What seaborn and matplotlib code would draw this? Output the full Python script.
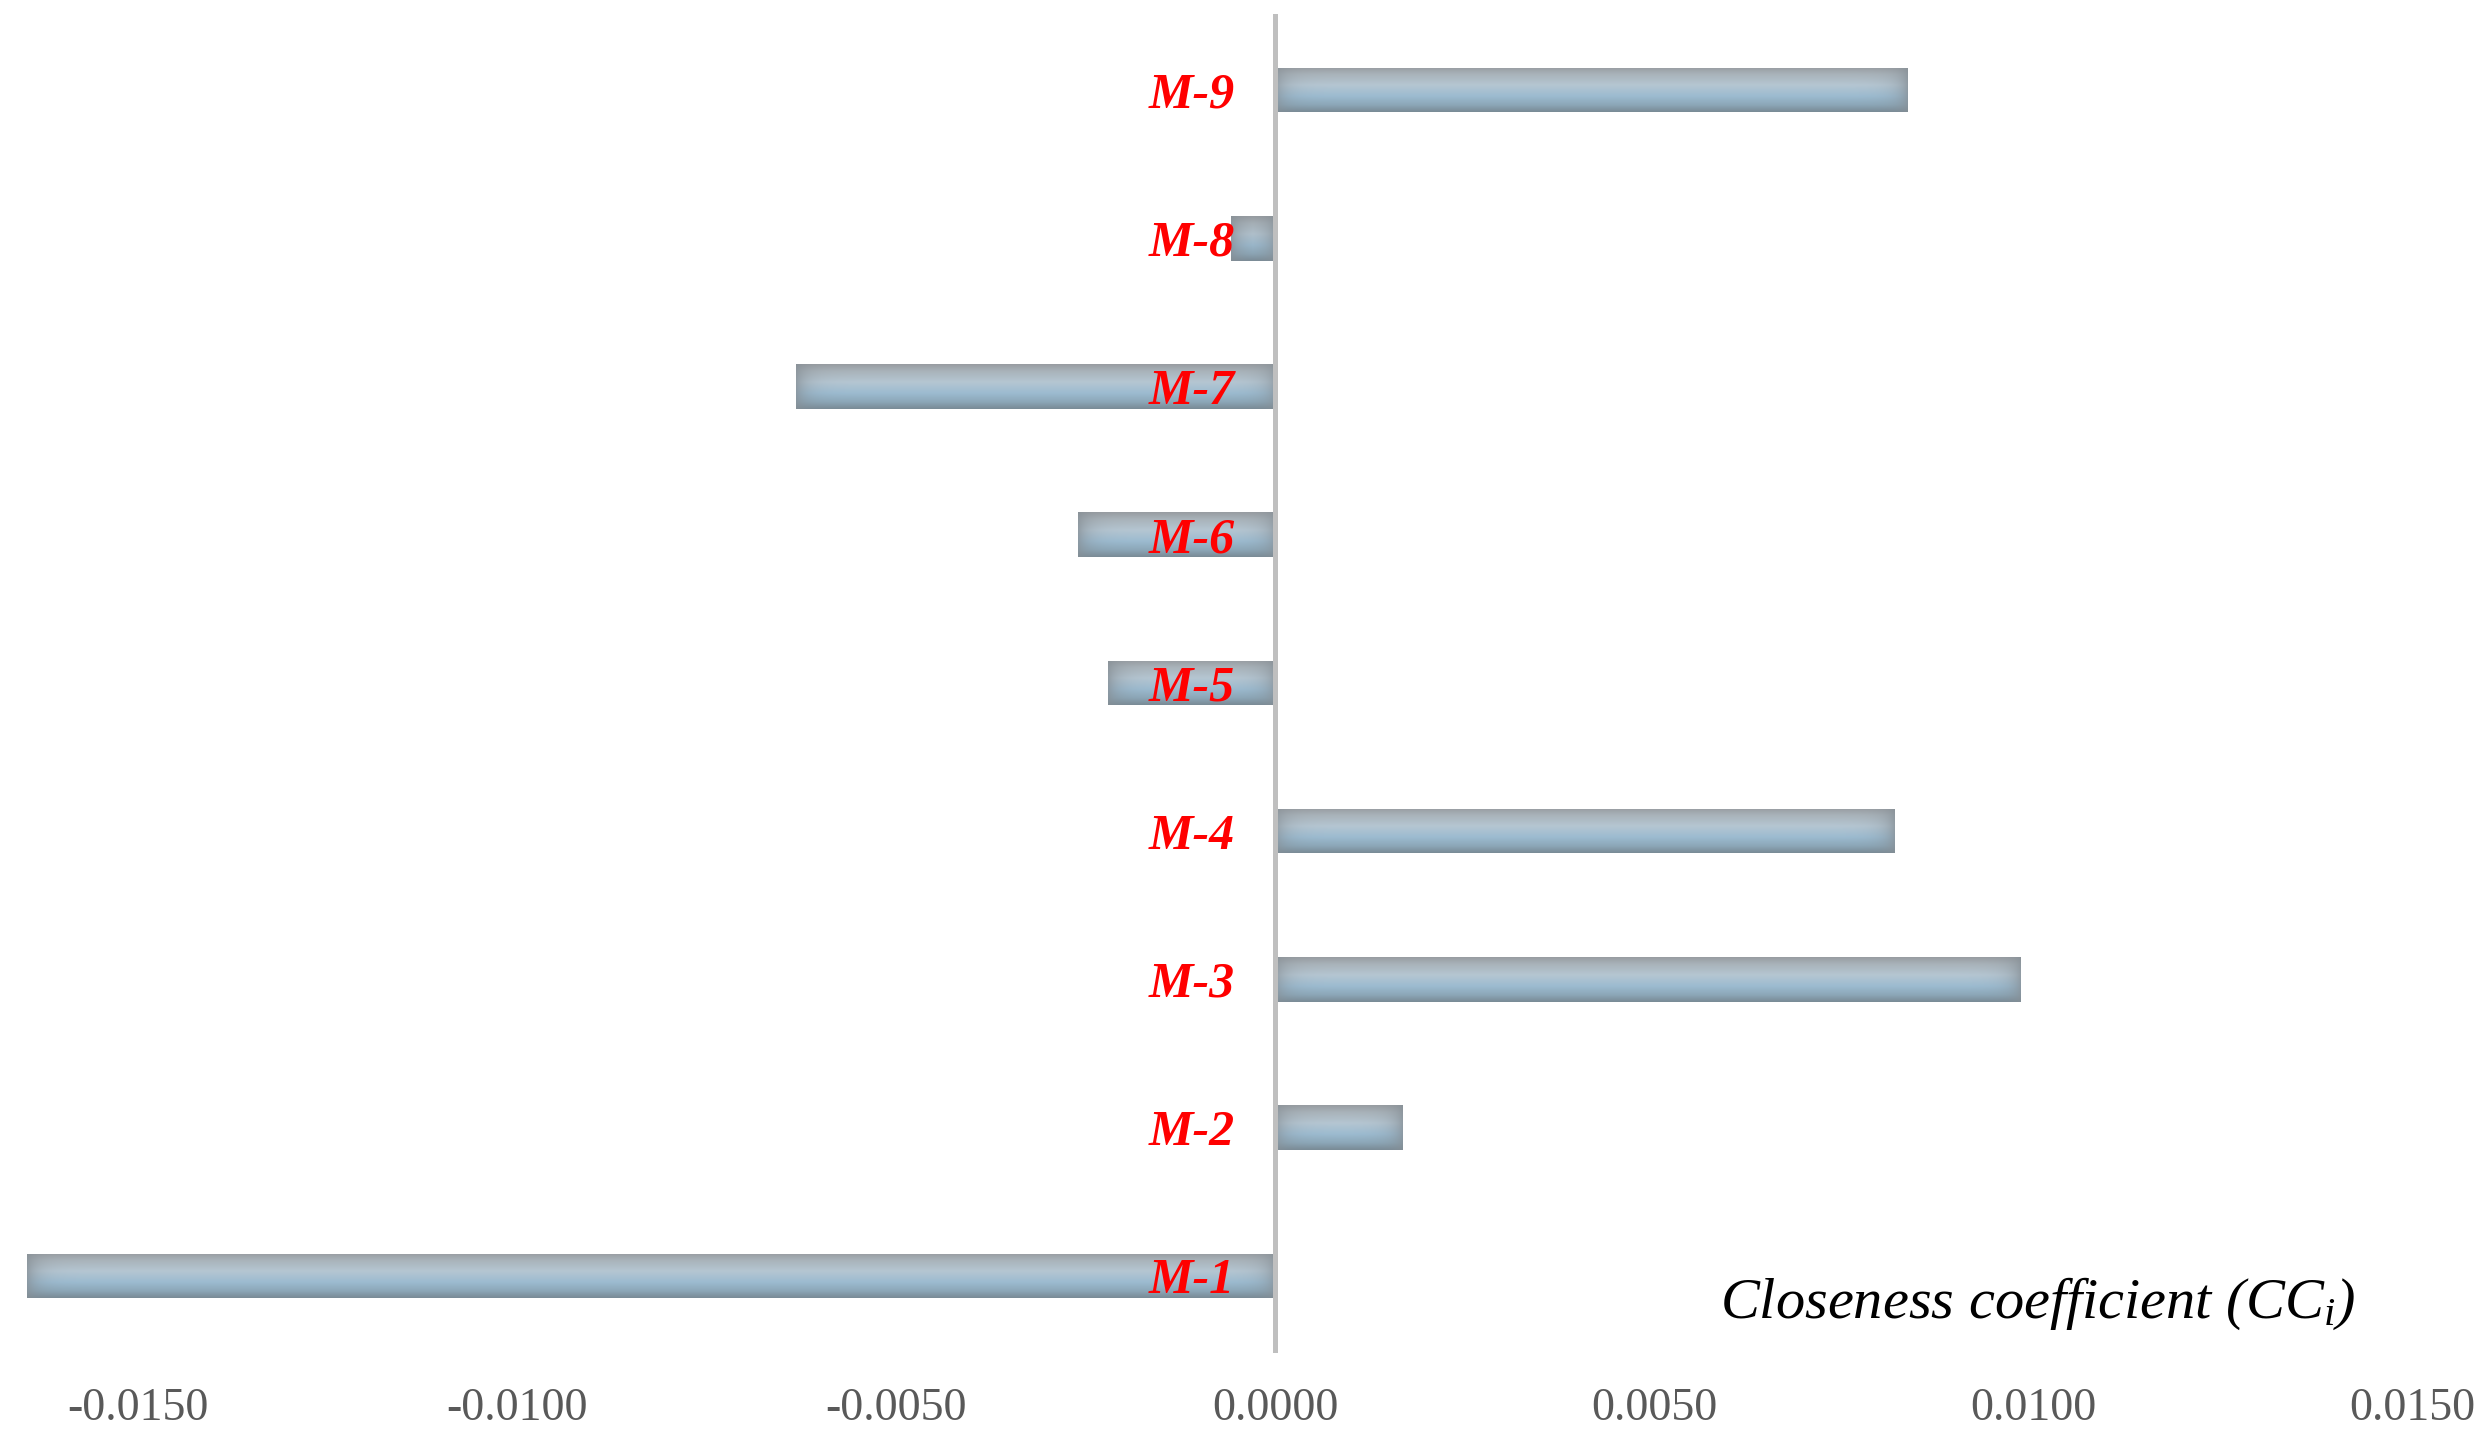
import numpy as np
import pandas as pd
import matplotlib
matplotlib.use("Agg")
import matplotlib.pyplot as plt
import seaborn as sns
from matplotlib.colors import LinearSegmentedColormap, to_rgb

# closeness coefficient per alternative
labels = ["M-1", "M-2", "M-3", "M-4", "M-5", "M-6", "M-7", "M-8", "M-9"]
cc_values = [-0.01646, 0.00168, 0.00983, 0.00817, -0.00220, -0.00260, -0.00632, -0.00058, 0.00835]
x_ticks = [-0.015, -0.010, -0.005, 0.0, 0.005, 0.010, 0.015]

df = pd.DataFrame({"alt": labels, "cc": cc_values})

sns.set_style("white")
plt.rcParams["font.family"] = ["Liberation Serif", "DejaVu Serif"]
plt.rcParams["mathtext.fontset"] = "custom"
plt.rcParams["mathtext.it"] = "Liberation Serif:italic"
plt.rcParams["mathtext.rm"] = "Liberation Serif"

fig, ax = plt.subplots(figsize=(24.9, 14.48), dpi=100)
fig.subplots_adjust(left=0, right=1, bottom=0.0677, top=0.989)

sns.barplot(data=df, x="cc", y="alt", order=labels[::-1], orient="h",
            width=0.3, color="#a4bccb", edgecolor="none", ax=ax)

ax.set_xlim(-0.01682, 0.01603)
ax.set_ylim(len(labels) - 0.5, -0.5)

# gradient fill like the excel bars
stops = [(0.0, "#999ea3"), (0.15, "#a9b3ba"), (0.4, "#b5c6d2"),
         (0.65, "#9cbbd0"), (0.85, "#8ca7b8"), (1.0, "#7a8c98")]
vcmap = LinearSegmentedColormap.from_list("barv", stops)
edge = np.array(to_rgb("#868f96"))
fig.canvas.draw()
for p in ax.patches:
    x0, y0 = p.get_x(), p.get_y()
    w, h = p.get_width(), p.get_height()
    (px0, py0), (px1, py1) = ax.transData.transform([(x0, y0), (x0 + w, y0 + h)])
    nx = max(int(abs(px1 - px0)), 2)
    ny = max(int(abs(py1 - py0)), 2)
    t = np.linspace(0, 1, ny)[:, None]
    col = vcmap(np.repeat(t, nx, axis=1))[..., :3]
    dx = np.minimum(np.arange(nx), np.arange(nx)[::-1])[None, :]
    wgt = np.exp(-dx / 12.0)[..., None] * 0.75
    img = col * (1 - wgt) + edge * wgt
    im = ax.imshow(img, extent=(x0, x0 + w, y0 + h, y0), aspect="auto",
                   interpolation="bilinear", zorder=1.5)
    im.set_clip_path(p)

# vertical axis line at zero with labels next to it
ax.set_axisbelow(False)
ax.yaxis.set_zorder(5)
ax.spines["left"].set_position(("data", 0))
ax.spines["left"].set_color("#bfbfbf")
ax.spines["left"].set_linewidth(3.6)
ax.spines["left"].set_zorder(3)
for s in ["top", "right", "bottom"]:
    ax.spines[s].set_visible(False)

ax.tick_params(axis="y", length=0, pad=29)
for lab in ax.get_yticklabels():
    lab.set_color("red")
    lab.set_fontweight("bold")
    lab.set_fontstyle("italic")
    lab.set_fontsize(36)

ax.set_xticks(x_ticks)
ax.set_xticklabels([f"{v:.4f}" for v in x_ticks])
ax.tick_params(axis="x", length=0, pad=27, labelsize=33, labelcolor="#595959")
ax.set_xlabel("")
ax.set_ylabel("")

fig.text(0.9458, 0.0898, "Closeness coefficient ($CC_i$)", ha="right", va="baseline",
         fontsize=42, fontstyle="italic", color="black")

fig.savefig("out.png", dpi=100)
